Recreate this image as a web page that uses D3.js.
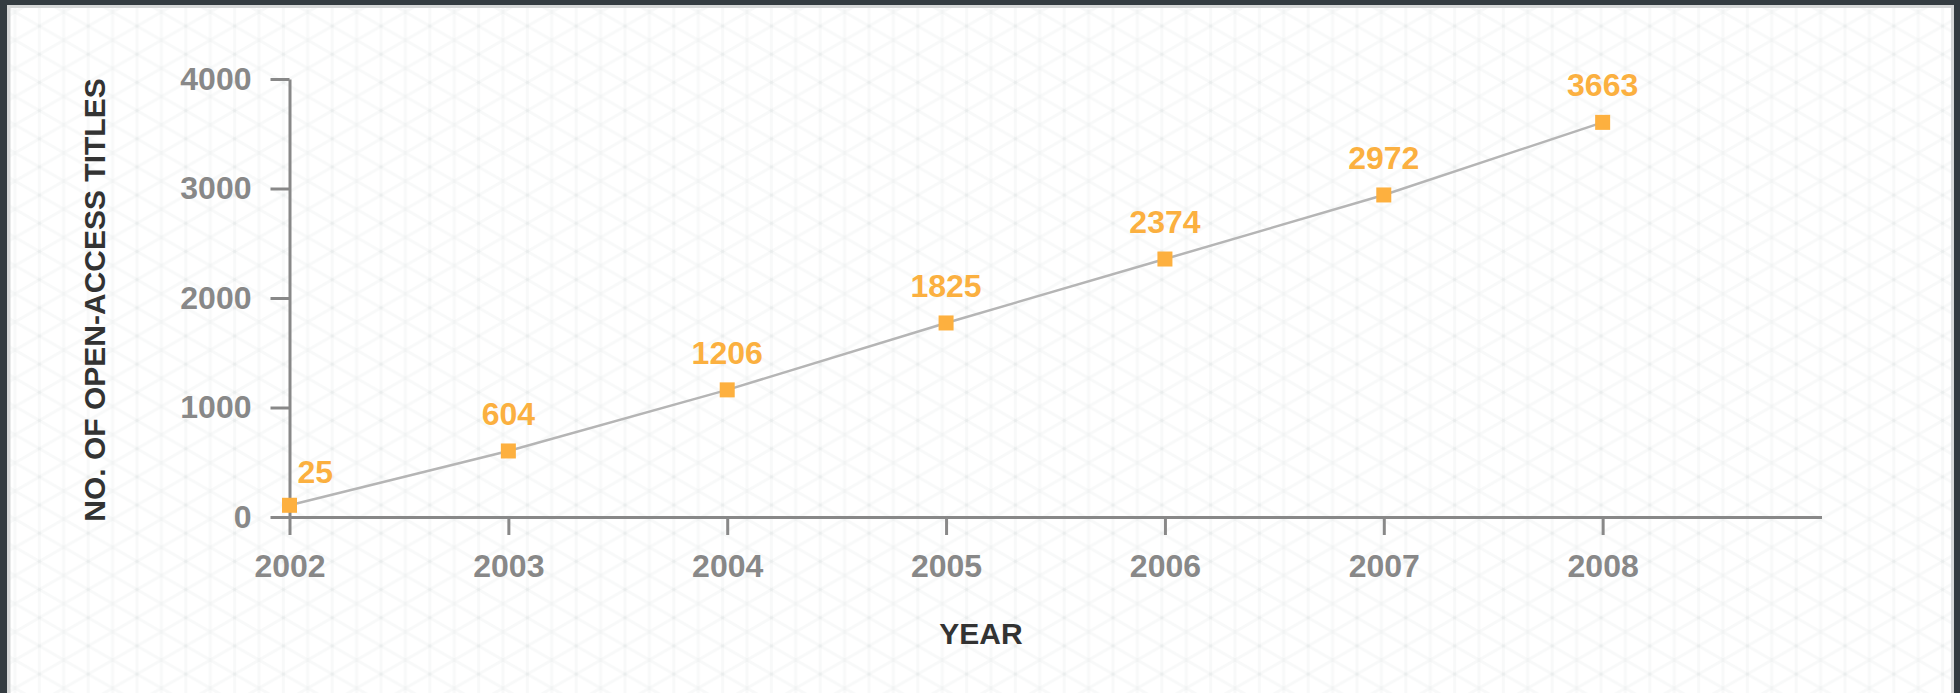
<!DOCTYPE html>
<html lang="en">
<head>
<meta charset="UTF-8">
<title>Open-access titles per year</title>
<script src="https://d3js.org/d3.v7.min.js"></script>
<style>
  body { margin: 0; background: #343c41; }
  svg { display: block; }
  .axis path, .axis line { stroke: #888; stroke-width: 3; }
  .axis text { fill: #888; font-family: 'Liberation Sans', Arial, sans-serif; font-size: 32px; font-weight: bold; }
  .axisTitle { fill: #333; font-family: 'Liberation Sans', Arial, sans-serif; font-size: 30px; font-weight: bold; }
  .valueLabel { fill: #fbb040; font-family: 'Liberation Sans', Arial, sans-serif; font-size: 32px; font-weight: bold; }
</style>
</head>
<body>
<script>
  // years on the x axis
  const years = [2002, 2003, 2004, 2005, 2006, 2007, 2008];
  // numbers printed above each point
  const titleLabels = [25, 604, 1206, 1825, 2374, 2972, 3663];
  // heights the markers are actually drawn at
  const plottedCounts = [107, 603, 1161, 1772, 2356, 2941, 3604];
  const yTicks = [0, 1000, 2000, 3000, 4000];

  const width = 1960, height = 693;
  const svg = d3.select('body').append('svg')
      .attr('width', width)
      .attr('height', height);

  // faint isometric grid for the panel background
  const s = 24.4, h = s * 2 * Math.tan(Math.PI / 6);
  const pat = svg.append('defs').append('pattern')
      .attr('id', 'iso')
      .attr('patternUnits', 'userSpaceOnUse')
      .attr('x', 15).attr('y', 12)
      .attr('width', 2 * s).attr('height', h);
  pat.append('rect').attr('width', 2 * s).attr('height', h).attr('fill', '#fff');
  const gridLines = [
    [0, 0, 0, h], [s, 0, s, h], [2 * s, 0, 2 * s, h],
    [0, 0, 2 * s, h], [0, h, 2 * s, 0]
  ];
  pat.selectAll('line').data(gridLines).join('line')
      .attr('x1', d => d[0]).attr('y1', d => d[1])
      .attr('x2', d => d[2]).attr('y2', d => d[3])
      .attr('stroke', 'rgba(20,50,50,0.03)')
      .attr('stroke-width', 3);

  // panel with thin light border
  svg.append('rect')
      .attr('x', 7).attr('y', 5)
      .attr('width', 1947).attr('height', 700)
      .attr('fill', '#d6d8d8');
  svg.append('rect')
      .attr('x', 10.5).attr('y', 8)
      .attr('width', 1940.5).attr('height', 700)
      .attr('fill', 'url(#iso)');

  const x = d3.scaleLinear().domain([2002, 2009]).range([289.5, 1821.5]);
  const y = d3.scaleLinear().domain([0, 4000]).range([517, 79]);

  svg.append('g')
      .attr('class', 'axis')
      .attr('transform', `translate(0,${y(0)})`)
      .call(d3.axisBottom(x).tickValues(years).tickFormat(d3.format('d'))
        .tickSize(18).tickSizeOuter(0).tickPadding(19));

  svg.append('g')
      .attr('class', 'axis')
      .attr('transform', `translate(${x(2002)},0)`)
      .call(d3.axisLeft(y).tickValues(yTicks).tickFormat(d3.format('d'))
        .tickSize(19).tickSizeOuter(0).tickPadding(19));

  const points = years.map((yr, i) => ({ year: yr, plotted: plottedCounts[i], label: titleLabels[i] }));

  svg.append('path')
      .datum(points)
      .attr('fill', 'none')
      .attr('stroke', '#b5b5b5')
      .attr('stroke-width', 2.5)
      .attr('d', d3.line().x(d => x(d.year)).y(d => y(d.plotted)));

  const size = 15;
  svg.selectAll('rect.marker').data(points).join('rect')
      .attr('class', 'marker')
      .attr('x', d => x(d.year) - size / 2)
      .attr('y', d => y(d.plotted) - size / 2)
      .attr('width', size).attr('height', size)
      .attr('fill', '#fdb03f');

  const labels = svg.selectAll('text.valueLabel').data(points).join('text')
      .attr('class', 'valueLabel')
      .attr('text-anchor', 'middle')
      .attr('x', d => x(d.year))
      .attr('y', d => y(d.plotted) - 26)
      .text(d => d.label);

  // keep labels clear of the y axis
  labels.each(function (d) {
    const w = this.getComputedTextLength();
    const minX = x(2002) + 8 + w / 2;
    if (x(d.year) < minX) {
      d3.select(this).attr('x', minX).attr('y', y(d.plotted) - 22);
    }
  });

  svg.append('text')
      .attr('class', 'axisTitle')
      .attr('text-anchor', 'middle')
      .attr('x', 981).attr('y', 644)
      .text('YEAR');

  svg.append('text')
      .attr('class', 'axisTitle')
      .attr('text-anchor', 'middle')
      .attr('transform', 'translate(105,300) rotate(-90)')
      .text('NO. OF OPEN-ACCESS TITLES');
</script>
</body>
</html>
